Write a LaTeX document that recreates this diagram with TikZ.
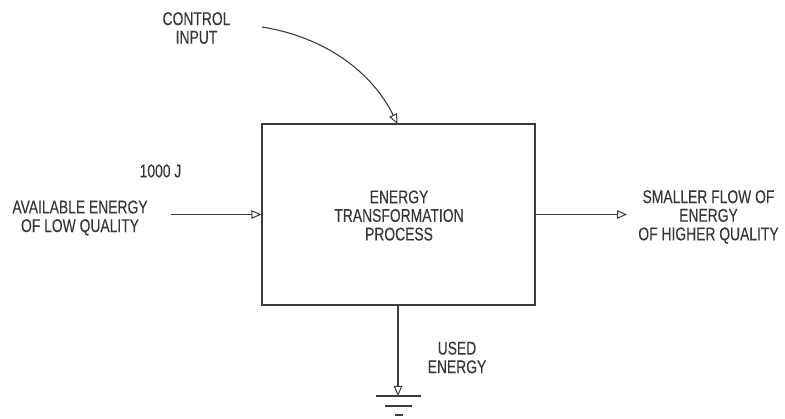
\documentclass[tikz,border=0pt]{standalone}
\usepackage{fontspec}
\setmainfont[FakeStretch=0.75, FakeBold=0.15]{Liberation Sans}
\usetikzlibrary{arrows.meta}
\definecolor{ink}{HTML}{3C3C3C}
\begin{document}
\begin{tikzpicture}[x=1pt,y=-1pt,
  line/.style={draw=ink, line width=1.1pt},
  flow/.style={line, -{Triangle[open, length=10pt, width=8.5pt, line width=1pt]}},
  txt/.style={text=ink!90!black, font=\fontsize{18.5}{18.6}\selectfont, align=center, inner sep=0pt},
  procbox/.style={line, rectangle, minimum width=273pt, minimum height=181pt, inner sep=0pt}]
\useasboundingbox (0,0) rectangle (785,419);

% central process block
\node[procbox] (box) at (398.5,214.5) {};
\node[txt] (boxtext) at (399,215.5) {ENERGY\\TRANSFORMATION\\PROCESS};

% control input from above
\node[txt] (ctrl) at (196.5,28) {CONTROL\\INPUT};
\coordinate (ctrlstart) at (262,27);
\coordinate (ctrlend) at (397.5,124);
\draw[flow] (ctrlstart) .. controls (325,37) and (372,72) .. (ctrlend);

% low-quality input
\node[txt] (qty) at (160.5,171) {1000 J};
\node[txt] (avail) at (80,218) {AVAILABLE ENERGY\\OF LOW QUALITY};
\coordinate (instart) at (171,214.5);
\draw[flow] (instart) -- (box.west);

% higher-quality output
\node[txt] (out) at (708.5,217) {SMALLER FLOW OF\\ENERGY\\OF HIGHER QUALITY};
\coordinate (outend) at (627,214.5);
\draw[flow] (box.east) -- (outend);

% used energy to ground
\node[txt] (used) at (457,357.5) {USED\\ENERGY};
\coordinate (gnd) at (398,396);
\draw[flow] (box.south -| gnd) -- (gnd);
\draw[line] (376,396) -- (421,396);
\draw[line] (385,406) -- (412,406);
\draw[line] (395,415) -- (403,415);
\end{tikzpicture}
\end{document}
